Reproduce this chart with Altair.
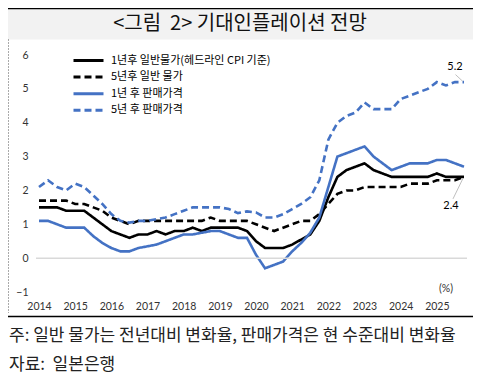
import altair as alt
import pandas as pd

# ---------------- data ----------------
quarters = [f"{y}Q{q}" for y in range(2014, 2026) for q in range(1, 5)]

series_names = [
    "1년후 일반물가(헤드라인 CPI 기준)",
    "5년후 일반 물가",
    "1년 후 판매가격",
    "5년 후 판매가격",
]

cpi_1y = [1.5, 1.5, 1.5, 1.4, 1.4, 1.4, 1.2, 1.0, 0.8, 0.7, 0.6, 0.7,
          0.7, 0.8, 0.7, 0.8, 0.8, 0.9, 0.8, 0.9, 0.9, 0.9, 0.9, 0.8,
          0.5, 0.3, 0.3, 0.3, 0.4, 0.55, 0.7, 1.1, 1.8, 2.4, 2.6, 2.7,
          2.8, 2.6, 2.5, 2.4, 2.4, 2.4, 2.4, 2.4, 2.5, 2.4, 2.4, 2.4]

cpi_5y = [1.7, 1.7, 1.7, 1.7, 1.6, 1.6, 1.5, 1.4, 1.2, 1.1, 1.0, 1.1,
          1.1, 1.1, 1.1, 1.1, 1.1, 1.1, 1.1, 1.2, 1.1, 1.1, 1.1, 1.1,
          1.0, 0.9, 0.8, 0.9, 1.0, 1.1, 1.1, 1.3, 1.6, 1.9, 2.0, 2.0,
          2.1, 2.1, 2.1, 2.1, 2.1, 2.2, 2.2, 2.2, 2.3, 2.3, 2.3, 2.4]

price_1y = [1.1, 1.1, 1.0, 0.9, 0.9, 0.9, 0.65, 0.45, 0.3, 0.2, 0.2, 0.3,
            0.35, 0.4, 0.5, 0.6, 0.7, 0.7, 0.75, 0.8, 0.8, 0.7, 0.6, 0.6,
            0.1, -0.3, -0.2, -0.1, 0.2, 0.45, 0.75, 1.2, 2.1, 3.0, 3.1, 3.2,
            3.3, 3.0, 2.8, 2.6, 2.7, 2.8, 2.8, 2.8, 2.9, 2.9, 2.8, 2.7]

price_5y = [2.1, 2.3, 2.1, 2.0, 2.2, 2.1, 1.85, 1.6, 1.3, 1.1, 1.05, 1.1,
            1.1, 1.15, 1.2, 1.3, 1.4, 1.5, 1.5, 1.5, 1.5, 1.45, 1.33, 1.38,
            1.35, 1.2, 1.2, 1.3, 1.45, 1.6, 1.8, 2.3, 3.5, 4.0, 4.2, 4.3,
            4.6, 4.4, 4.4, 4.4, 4.7, 4.8, 4.9, 5.0, 5.2, 5.1, 5.2, 5.2]

year_ticks = list(range(2014, 2026))
y_ticks = [-1, 0, 1, 2, 3, 4, 5, 6]

title_text = "<그림 \u00a02> 기대인플레이션 전망"
note_lines = ["주: 일반 물가는 전년대비 변화율, 판매가격은 현 수준대비 변화율",
              "자료: \u00a0일본은행"]
unit_text = "(%)"

# ---------------- build table ----------------
def qpos(label):
    y, q = label.split("Q")
    return int(y) + (int(q) - 1) / 4

rows = []
for name, vals in zip(series_names, [cpi_1y, cpi_5y, price_1y, price_5y]):
    for ql, v in zip(quarters, vals):
        rows.append({"t": qpos(ql), "series": name, "v": v})
df = pd.DataFrame(rows)

# ---------------- layout ----------------
W, H = 431, 237
XDOM = [2013.917, 2025.833]
YDOM = [-1, 6]
kx = W / (XDOM[1] - XDOM[0])
ky = H / (YDOM[1] - YDOM[0])

KFONT = "Noto Sans CJK KR"
NFONT = "Lato"
BLUE = "#4472C4"

colors = ["#000000", "#000000", BLUE, BLUE]
dashes = [[1, 0], [7, 4], [1, 0], [7, 4]]

xscale = alt.Scale(domain=XDOM, nice=False, zero=False)
yscale = alt.Scale(domain=YDOM, nice=False, zero=False)

legend = alt.Legend(
    title=None, orient="none", legendX=47, legendY=0, direction="vertical",
    symbolType="M-5,0H5", symbolSize=36, symbolStrokeWidth=3,
    labelFont=KFONT, labelFontSize=11, labelColor="#000000", labelLimit=400,
    labelOffset=17, rowPadding=3.6, padding=0,
)

xaxis = alt.Axis(values=year_ticks, format="d", title=None, grid=False,
                 ticks=False, domain=False, labelFont=NFONT,
                 labelFontSize=10.5, labelColor="#333333",
                 labelPadding=9, labelFlush=False, labelOverlap=False)
yaxis = alt.Axis(values=y_ticks, title=None, grid=False, ticks=False,
                 domain=False, labelFont=NFONT, labelFontSize=10.5,
                 labelColor="#333333", labelPadding=8,
                 labelOverlap=False, labelFlush=False)

lines = alt.Chart(df).mark_line(strokeWidth=2.6).encode(
    x=alt.X("t:Q", scale=xscale, axis=xaxis),
    y=alt.Y("v:Q", scale=yscale, axis=yaxis),
    color=alt.Color("series:N", scale=alt.Scale(domain=series_names, range=colors),
                    legend=legend),
    strokeDash=alt.StrokeDash("series:N",
                              scale=alt.Scale(domain=series_names, range=dashes),
                              legend=legend),
    detail="series:N",
)

zero = alt.Chart(pd.DataFrame({"v": [0]})).mark_rule(
    color="#d9d9d9", strokeWidth=1.5
).encode(y=alt.Y("v:Q", scale=yscale, axis=yaxis))

# end-value annotations
last_t = qpos(quarters[-1])
ann = pd.DataFrame([
    {"t": last_t, "v": price_5y[-1], "dx": -9, "dy": -15,
     "t2": last_t - 1.5 / kx, "v2": price_5y[-1] + 1 / ky,
     "t1": last_t - 8.5 / kx, "v1": price_5y[-1] + 7.5 / ky},
    {"t": last_t, "v": cpi_1y[-1], "dx": -13, "dy": 29,
     "t2": last_t - 1 / kx, "v2": cpi_1y[-1] - 1.5 / ky,
     "t1": last_t - 11 / kx, "v1": cpi_1y[-1] - 22 / ky},
])

leaders = alt.Chart(ann).transform_calculate(
    t="datum.t1", v="datum.v1"
).mark_rule(color="#bfbfbf", strokeWidth=1).encode(
    x=alt.X("t:Q", scale=xscale, axis=xaxis),
    y=alt.Y("v:Q", scale=yscale, axis=yaxis),
    x2="t2:Q", y2="v2:Q")

ann_text = []
for _, r in ann.iterrows():
    ann_text.append(
        alt.Chart(pd.DataFrame([{"t": r["t"], "v": r["v"]}])).mark_text(
            font=NFONT, fontSize=11, color="#000000",
            dx=float(r["dx"]), dy=float(r["dy"]))
        .encode(x=alt.X("t:Q", scale=xscale, axis=xaxis),
                y=alt.Y("v:Q", scale=yscale, axis=yaxis),
                text=alt.Text("v:Q", format=".1f")))

one = pd.DataFrame({"a": [0]})

unit = alt.Chart(one).mark_text(font=NFONT, fontSize=10.5, color="#333333").encode(
    x=alt.value(410), y=alt.value(234), text=alt.value(unit_text))

# frame / title decorations (padding area)
title_bg = alt.Chart(one).mark_rect(color="#f2f2f2").encode(
    x=alt.value(-28), x2=alt.value(437), y=alt.value(-46), y2=alt.value(-15.5))
top_line = alt.Chart(one).mark_rule(color="#000000", strokeWidth=1.5).encode(
    x=alt.value(-28), x2=alt.value(437), y=alt.value(-46.5))
left_dots = alt.Chart(one).mark_rule(color="#555555", strokeWidth=1,
                                     strokeDash=[1, 2]).encode(
    x=alt.value(-27.5), y=alt.value(-15.5), y2=alt.value(258))
bottom_line = alt.Chart(one).mark_rule(color="#000000", strokeWidth=1.5).encode(
    x=alt.value(-28), x2=alt.value(437), y=alt.value(261.5))

title = alt.Chart(one).mark_text(font=KFONT, fontSize=20, color="#111111",
                                 baseline="middle", align="center").encode(
    x=alt.value(204), y=alt.value(-31), text=alt.value(title_text))

notes = [
    alt.Chart(one).mark_text(font=KFONT, fontSize=17, color="#222222",
                             baseline="middle", align="left").encode(
        x=alt.value(-27), y=alt.value(yy), text=alt.value(txt))
    for txt, yy in zip(note_lines, [281, 310])
]

chart = alt.layer(
    lines, zero, leaders, *ann_text,
    title_bg, top_line, left_dots, bottom_line, title, *notes, unit,
).properties(
    width=W, height=H,
    autosize=alt.AutoSizeParams(type="none"),
    padding={"left": 28, "top": 47, "right": 6, "bottom": 82},
    background="#ffffff",
).configure_view(stroke=None).configure_axis(labelOverlap=False)

chart.save("out.html", embed_options={"renderer": "svg", "actions": False})
